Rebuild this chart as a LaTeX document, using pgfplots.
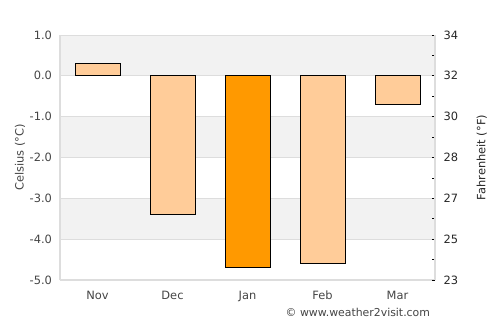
\documentclass[border=0pt]{standalone}
\usepackage{fontspec}
\setmainfont{DejaVu Sans}
\usepackage{pgfplots}
\pgfplotsset{compat=1.18}
\definecolor{band}{HTML}{F2F2F2}
\definecolor{gridc}{HTML}{DDDDDD}
\definecolor{light}{HTML}{FFCC99}
\definecolor{dark}{HTML}{FF9900}
\definecolor{txt}{HTML}{444444}
\begin{document}
\begin{tikzpicture}
\begin{axis}[
  set layers,
  at={(0bp,0bp)}, anchor=south west,
  scale only axis, width=281.25bp, height=183.75bp,
  xmin=-0.5, xmax=4.5, ymin=-5, ymax=1,
  axis x line*=bottom, axis y line*=left,
  axis line style={gridc, line width=0.8bp},
  xtick={0,1,2,3,4}, xticklabels={Nov,Dec,Jan,Feb,Mar},
  ytick={-5,-4,-3,-2,-1,0,1},
  yticklabels={-5.0,-4.0,-3.0,-2.0,-1.0,0.0,1.0},
  major tick length=0pt,
  ymajorgrids, grid style={gridc, line width=0.6bp},
  tick label style={font=\fontsize{8.6}{10}\selectfont, color=txt},
  /pgf/number format/assume math mode=true,
  yticklabel style={xshift=-2.5bp},
  xticklabel style={yshift=-4.8bp},
  ylabel={Celsius (°C)},
  ylabel style={font=\fontsize{8.6}{10}\selectfont, color=txt, at={(axis description cs:0,0.5)}, yshift=30bp, anchor=center},
  ybar, bar width=0.6, bar shift=0pt,
]
\begin{pgfonlayer}{axis background}
\fill[band] (axis cs:-0.5,1) rectangle (axis cs:4.5,0);
\fill[band] (axis cs:-0.5,-1) rectangle (axis cs:4.5,-2);
\fill[band] (axis cs:-0.5,-3) rectangle (axis cs:4.5,-4);
\end{pgfonlayer}
\addplot[fill=light, draw=black, line width=0.6bp] coordinates {(0,0.3) (1,-3.4) (3,-4.6) (4,-0.7)};
\addplot[fill=dark, draw=black, line width=0.6bp] coordinates {(2,-4.7)};
\end{axis}
\begin{axis}[
  at={(0bp,0bp)}, anchor=south west,
  scale only axis, width=281.25bp, height=183.75bp,
  xmin=-0.5, xmax=4.5, ymin=-5, ymax=1,
  axis x line=none, axis y line*=right,
  axis line style={gridc, line width=0.8bp},
  ytick={-5,-4,-3,-2,-1,0,1},
  yticklabels={23,25,27,28,30,32,34},
  minor ytick={-4.5,-3.5,-2.5,-1.5,-0.5,0.5},
  tick align=inside,
  major tick length=2.5bp, minor tick length=2.5bp,
  every tick/.style={black, line width=0.6bp},
  tick label style={font=\fontsize{8.6}{10}\selectfont, color=black!85},
  /pgf/number format/assume math mode=true,
  yticklabel style={xshift=3bp},
  ylabel={Fahrenheit (°F)},
  ylabel style={font=\fontsize{8.6}{10}\selectfont, color=black!85, at={(axis description cs:1,0.5)}, yshift=-35bp, anchor=center},
]
\addplot[draw=none] coordinates {(0,0)};
\end{axis}
\node[anchor=base east, font=\fontsize{8.2}{9}\selectfont, color=txt] at (281bp,-27.5bp) {© www.weather2visit.com};
\path (-45bp,-33.75bp) rectangle (330bp,210bp);
\end{tikzpicture}
\end{document}
